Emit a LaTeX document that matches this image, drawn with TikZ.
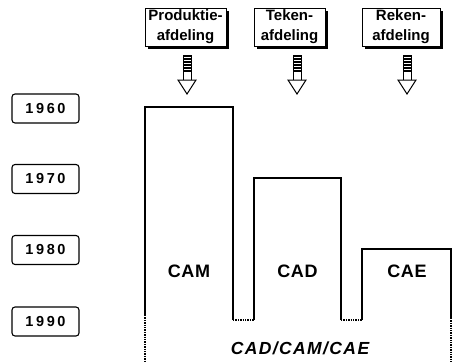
\documentclass[tikz,border=0pt]{standalone}
\usepackage{fontspec}
\setmainfont{Liberation Sans}
\begin{document}
\begin{tikzpicture}[x=1pt,y=-1pt,
  dept/.style={draw=black,line width=1pt,fill=white,minimum width=72pt,minimum height=38pt,inner sep=0pt,align=center,font=\fontsize{15}{20}\selectfont\bfseries},
  shadowbox/.style={fill=black},
  year/.style={draw=black,line width=1.1pt,rounded corners=3pt,minimum width=67pt,minimum height=29pt,inner sep=0pt,font=\fontsize{14.5}{16}\selectfont\bfseries\addfontfeature{LetterSpace=18}},
  outl/.style={line width=1.4pt,line join=miter},
  dotl/.style={line width=1.4pt,densely dotted},
  lab/.style={font=\fontsize{18}{20}\selectfont\bfseries\addfontfeature{LetterSpace=4}},
  blockarrow/.style={line width=1pt,fill=white}
]
\useasboundingbox (0,0) rectangle (452,362);
% department boxes with shadow
\fill[shadowbox] (148,10.5) rectangle (228.5,49);
\node[dept,minimum width=81pt] (prod) at (185.5,27) {Produktie-\\afdeling};
\fill[shadowbox] (257,10.5) rectangle (327.5,49);
\node[dept,minimum width=71pt] (tek) at (289.5,27) {Teken-\\afdeling};
\fill[shadowbox] (365,10.5) rectangle (442.5,49);
\node[dept,minimum width=78pt] (rek) at (401,27) {Reken-\\afdeling};
% block arrows
\foreach \cx in {187,297,407}{
  \draw[blockarrow] (\cx-4,55) rectangle (\cx+4,80);
  \foreach \yy in {56,59,62,65,68,71}{
    \draw[line width=1.4pt] (\cx-4,\yy) -- (\cx+4,\yy);
  }
  \draw[blockarrow,line join=miter] (\cx-9,80) -- (\cx+9,80) -- (\cx,94) -- cycle;
}
% year boxes
\node[year] (y60) at (45.5,108.5) {1960};
\node[year] (y70) at (45.5,179) {1970};
\node[year] (y80) at (45.5,250) {1980};
\node[year] (y90) at (45.5,321.5) {1990};
% main outline
\draw[outl] (145,315) -- (145,107) -- (233,107) -- (233,320);
\draw[dotl] (233,320) -- (254,320);
\draw[outl] (254,320) -- (254,178) -- (341,178) -- (341,320);
\draw[dotl] (341,320) -- (362,320);
\draw[outl] (362,320) -- (362,249) -- (451,249) -- (451,318);
\draw[dotl] (451,318) -- (451,362);
\draw[dotl] (145,315) -- (145,362);
% labels
\node[lab] (cam) at (189,271.5) {CAM};
\node[lab] (cad) at (297.5,271.5) {CAD};
\node[lab] (cae) at (407,271.5) {CAE};
\node[font=\fontsize{17.5}{20}\selectfont\bfseries\itshape\addfontfeature{LetterSpace=8}] (all) at (300,348) {CAD/CAM/CAE};
\end{tikzpicture}
\end{document}
